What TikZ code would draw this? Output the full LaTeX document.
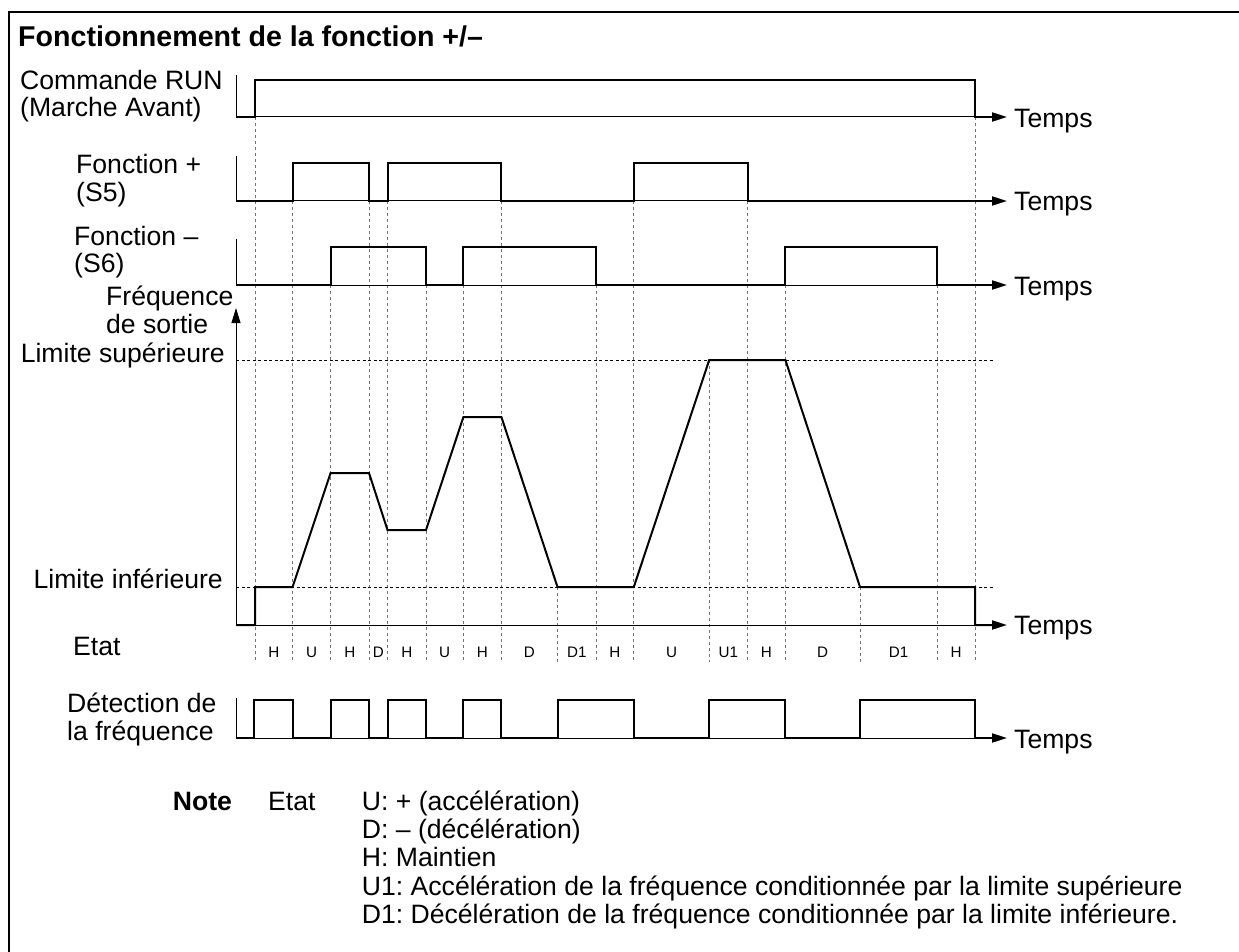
\documentclass[tikz,border=0pt]{standalone}
\usepackage{fontspec}
\setmainfont{Liberation Sans}
\usetikzlibrary{arrows.meta}
\newcommand\bigfnt{\fontsize{26.6}{28}\selectfont\frenchspacing}
\newcommand\titlefnt{\fontsize{28.6}{30}\selectfont\bfseries}
\newcommand\smallfnt{\fontsize{15.2}{17}\selectfont}
\tikzset{
  sig/.style={line width=2pt, line join=miter},
  axline/.style={line width=1pt},
  arr/.style={-{Triangle[length=15pt,width=9pt]}},
  lim/.style={line width=1pt, dash pattern=on 3pt off 2.5pt},
  gridln/.style={line width=0.8pt, black!55, dash pattern=on 3pt off 3pt},
  lab/.style={inner sep=0pt, font=\bigfnt, anchor=base west},
  labr/.style={inner sep=0pt, font=\bigfnt, anchor=base east},
  st/.style={inner sep=0pt, font=\smallfnt, anchor=base},
}
\begin{document}
\begin{tikzpicture}[x=1pt,y=-1pt]
\useasboundingbox (0,0) rectangle (1239,952);
% frame
\draw[line width=2pt] (8.7,952) -- (8.7,11.7) -- (1239,11.7);
% title
\node[lab, font=\titlefnt] (title) at (18,47) {Fonctionnement de la fonction +/–};

% vertical dashed guide lines
\foreach \t/\s in {255/117, 292.6/201, 330.6/285, 369/201, 387.5/201, 426/285,
  463.4/285, 501.4/201, 557.5/587, 596/285, 633.8/201, 709.2/360, 747.5/201,
  785.4/285, 860/587, 937/285, 975/117}
  \draw[gridln] (\t,\s) -- (\t,662);

% limit lines
\draw[lim] (236,360) -- (993,360);
\draw[lim] (236,587) -- (993,587);

% ---------- RUN ----------
\node[lab] (run1) at (20,90) {Commande RUN};
\node[lab] (run2) at (20,117) {(Marche Avant)};
\draw[axline] (236,75) -- (236,117) -- (995,117);
\draw[sig, arr] (236,117) -- (255,117) -- (255,80) -- (975,80) -- (975,117) -- (1007,117);
\node[lab] (temps1) at (1014,128) {Temps};

% ---------- S5 ----------
\node[lab] (s5a) at (76,174) {Fonction +};
\node[lab] (s5b) at (76,201) {(S5)};
\draw[axline] (236,156) -- (236,201) -- (995,201);
\draw[sig, arr] (236,201) -- (292.6,201) -- (292.6,163) -- (369,163) -- (369,201)
  -- (387.5,201) -- (387.5,163) -- (501.4,163) -- (501.4,201) -- (633.8,201)
  -- (633.8,163) -- (747.5,163) -- (747.5,201) -- (1007,201);
\node[lab] (temps2) at (1014,211) {Temps};

% ---------- S6 ----------
\node[lab] (s6a) at (74,245) {Fonction –};
\node[lab] (s6b) at (74,272) {(S6)};
\draw[axline] (236,239) -- (236,285) -- (995,285);
\draw[sig, arr] (236,285) -- (330.6,285) -- (330.6,247) -- (426,247) -- (426,285)
  -- (463.4,285) -- (463.4,247) -- (596,247) -- (596,285) -- (785.4,285)
  -- (785.4,247) -- (937,247) -- (937,285) -- (1007,285);
\node[lab] (temps3) at (1014,295) {Temps};

% ---------- Frequency ----------
\node[lab] (fq1) at (106,305) {Fréquence};
\node[lab] (fq2) at (106,333) {de sortie};
\node[labr] (lsup) at (225,362) {Limite supérieure};
\node[labr] (linf) at (223,588) {Limite inférieure};
\draw[axline, arr] (236,625) -- (236,308);
\draw[axline] (236,625) -- (995,625);
\draw[sig, arr] (236,625) -- (255,625) -- (255,587) -- (292.6,587) -- (330.6,473)
  -- (369,473) -- (387.5,530) -- (426,530) -- (463.4,417) -- (501.4,417)
  -- (557.5,587) -- (633.8,587) -- (709.2,360) -- (785.4,360) -- (860,587)
  -- (975,587) -- (975,625) -- (1007,625);
\node[lab] (temps4) at (1014,634) {Temps};

% ---------- Etat ----------
\node[lab] (etat) at (73,655) {Etat};
\foreach \a/\b/\l in {255/292.6/H, 292.6/330.6/U, 330.6/369/H, 369/387.5/D,
  387.5/426/H, 426/463.4/U, 463.4/501.4/H, 501.4/557.5/D, 557.5/596/D1,
  596/633.8/H, 633.8/709.2/U, 709.2/747.5/U1, 747.5/785.4/H, 785.4/860/D,
  860/937/D1, 937/975/H}
  \node[st] at ({(\a+\b)/2},657.5) {\l};

% ---------- Detection ----------
\node[lab] (det1) at (67,712) {Détection de};
\node[lab] (det2) at (67,740) {la fréquence};
\draw[axline] (236,698) -- (236,738) -- (995,738);
\draw[sig, arr] (236,738) -- (254.4,738) -- (254.4,700) -- (292.6,700) -- (292.6,738)
  -- (330.6,738) -- (330.6,700) -- (369,700) -- (369,738)
  -- (387.5,738) -- (387.5,700) -- (426,700) -- (426,738)
  -- (463.4,738) -- (463.4,700) -- (501.4,700) -- (501.4,738)
  -- (557.5,738) -- (557.5,700) -- (633.8,700) -- (633.8,738)
  -- (709.2,738) -- (709.2,700) -- (785.4,700) -- (785.4,738)
  -- (860,738) -- (860,700) -- (975,700) -- (975,738) -- (1007,738);
\node[lab] (temps5) at (1014,748) {Temps};

% ---------- Note ----------
\node[lab, font=\bigfnt\bfseries] (note) at (172.7,810) {Note};
\node[lab] (netat) at (268,810) {Etat};
\node[lab] (n1) at (361.7,810) {U: + (accélération)};
\node[lab] (n2) at (361.7,838.3) {D: – (décélération)};
\node[lab] (n3) at (361.7,866.7) {H: Maintien};
\node[lab] (n4) at (361.7,895) {U1: Accélération de la fréquence conditionnée par la limite supérieure};
\node[lab] (n5) at (361.7,923) {D1: Décélération de la fréquence conditionnée par la limite inférieure.};
\end{tikzpicture}
\end{document}
